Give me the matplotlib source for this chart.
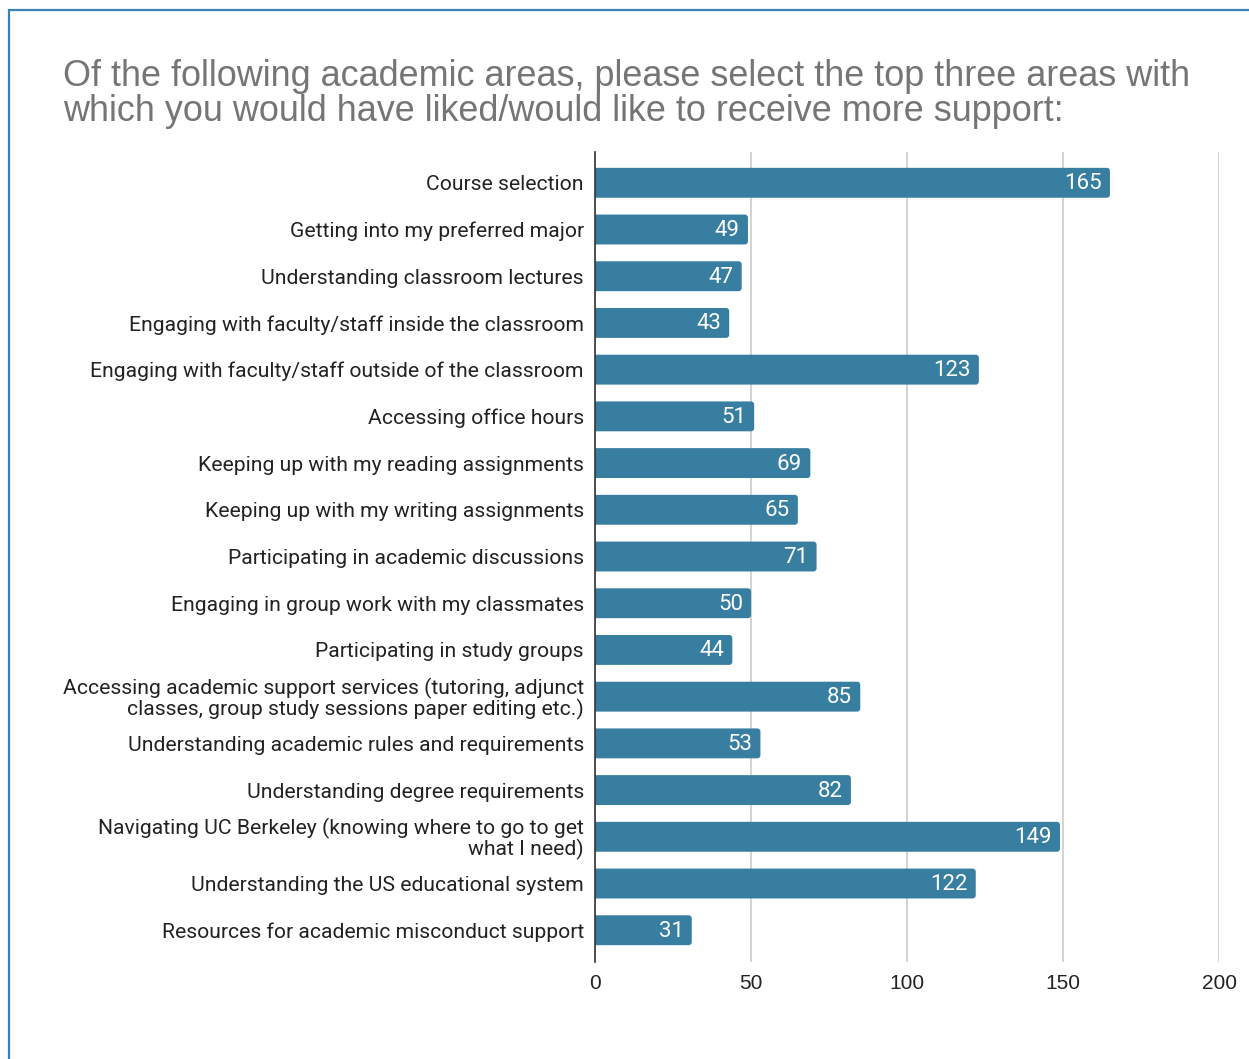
import matplotlib.pyplot as plt
from matplotlib.patches import Rectangle, FancyBboxPatch

categories = [
    'Course selection',
    'Getting into my preferred major',
    'Understanding classroom lectures',
    'Engaging with faculty/staff inside the classroom',
    'Engaging with faculty/staff outside of the classroom',
    'Accessing office hours',
    'Keeping up with my reading assignments',
    'Keeping up with my writing assignments',
    'Participating in academic discussions',
    'Engaging in group work with my classmates',
    'Participating in study groups',
    'Accessing academic support services (tutoring, adjunct\nclasses, group study sessions paper editing etc.)',
    'Understanding academic rules and requirements',
    'Understanding degree requirements',
    'Navigating UC Berkeley (knowing where to go to get\nwhat I need)',
    'Understanding the US educational system',
    'Resources for academic misconduct support',
]
values = [165, 49, 47, 43, 123, 51, 69, 65, 71, 50, 44, 85, 53, 82, 149, 122, 31]
xticks = [0, 50, 100, 150, 200]

title = ('Of the following academic areas, please select the top three areas with\n'
         'which you would have liked/would like to receive more support:')

bar_color = '#377ea1'
bar_h = 0.64

fig = plt.figure(figsize=(12.49, 10.59), dpi=100)

# frame around the chart
fig.patches.append(Rectangle((0.0072, -0.01), 1.2, 1.0 - 0.0095 + 0.01,
                             transform=fig.transFigure, fill=False,
                             edgecolor='#3d7fae', linewidth=1.6))

ax = fig.add_axes([0.4764, 0.0916, 0.4997, 0.7649])
pos = list(range(len(categories)))

# bars with slightly rounded ends (left end hidden behind the axis)
for p, v in zip(pos, values):
    bar = FancyBboxPatch((-3, p - bar_h / 2), v + 3, bar_h,
                         boxstyle='round,pad=0,rounding_size=1.0',
                         mutation_aspect=0.066, facecolor=bar_color,
                         edgecolor='none', zorder=3)
    ax.add_patch(bar)
    ax.text(v - 2.6, p + 0.02, str(v), ha='right', va='center', color='white',
            fontsize=16, family='Roboto', zorder=4)

ax.set_xlim(0, 200)
ax.set_ylim(16.68, -0.66)
ax.set_xticks(xticks)
ax.set_xticklabels([str(t) for t in xticks], family='Liberation Sans',
                   fontsize=15, color='#222222')
ax.set_yticks(pos)
ax.set_yticklabels(categories, family='Roboto', fontsize=15.2, color='#222222',
                   linespacing=0.98)
ax.tick_params(axis='both', length=0)
ax.tick_params(axis='y', pad=8)
ax.tick_params(axis='x', pad=9)
ax.grid(axis='x', color='#cccccc', linewidth=1.2, zorder=0)
for s in ['top', 'right', 'bottom']:
    ax.spines[s].set_visible(False)
ax.spines['left'].set_color('#333333')
ax.spines['left'].set_linewidth(1.2)
ax.spines['left'].set_zorder(5)

fig.text(0.0505, 0.878, title, family='Liberation Sans', fontsize=25.9,
         color='#757575', ha='left', va='bottom', linespacing=1.02)

fig.savefig('out.png', dpi=100)
